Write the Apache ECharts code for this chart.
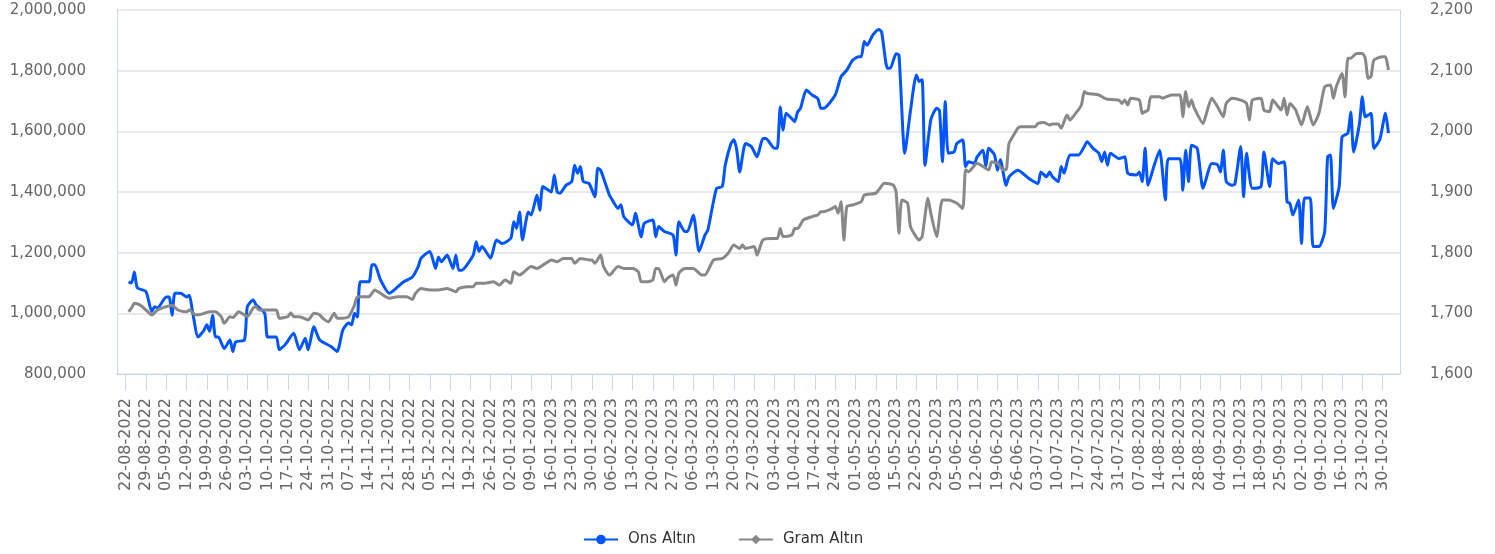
<!DOCTYPE html>
<html><head><meta charset="utf-8">
<script src="https://cdn.jsdelivr.net/npm/echarts@6/dist/echarts.min.js"></script>
<style>html,body{margin:0;padding:0;background:#fff}#c{width:1495px;height:554px}</style>
</head><body><div id="c"></div>
<script>
const seriesNames = ['Ons Altın', 'Gram Altın'];
const axisStart = '2022-08-19';
const axisEnd = '2023-11-05';
const tickLabels = ['22-08-2022','29-08-2022','05-09-2022','12-09-2022','19-09-2022','26-09-2022','03-10-2022','10-10-2022','17-10-2022','24-10-2022','31-10-2022','07-11-2022','14-11-2022','21-11-2022','28-11-2022','05-12-2022','12-12-2022','19-12-2022','26-12-2022','02-01-2023','09-01-2023','16-01-2023','23-01-2023','30-01-2023','06-02-2023','13-02-2023','20-02-2023','27-02-2023','06-03-2023','13-03-2023','20-03-2023','27-03-2023','03-04-2023','10-04-2023','17-04-2023','24-04-2023','01-05-2023','08-05-2023','15-05-2023','22-05-2023','29-05-2023','05-06-2023','12-06-2023','19-06-2023','26-06-2023','03-07-2023','10-07-2023','17-07-2023','24-07-2023','31-07-2023','07-08-2023','14-08-2023','21-08-2023','28-08-2023','04-09-2023','11-09-2023','18-09-2023','25-09-2023','02-10-2023','09-10-2023','16-10-2023','23-10-2023','30-10-2023'];

const onsDates = ['2022-08-23','2022-08-24','2022-08-25','2022-08-26','2022-08-29','2022-08-31','2022-09-01','2022-09-02','2022-09-05','2022-09-06','2022-09-07','2022-09-08','2022-09-10','2022-09-12','2022-09-13','2022-09-14','2022-09-16','2022-09-18','2022-09-19','2022-09-20','2022-09-21','2022-09-22','2022-09-23','2022-09-25','2022-09-27','2022-09-28','2022-09-29','2022-10-02','2022-10-03','2022-10-05','2022-10-06','2022-10-09','2022-10-10','2022-10-13','2022-10-14','2022-10-16','2022-10-19','2022-10-21','2022-10-23','2022-10-24','2022-10-26','2022-10-28','2022-11-01','2022-11-03','2022-11-05','2022-11-07','2022-11-08','2022-11-09','2022-11-10','2022-11-11','2022-11-14','2022-11-15','2022-11-16','2022-11-18','2022-11-21','2022-11-24','2022-11-26','2022-11-29','2022-12-01','2022-12-02','2022-12-05','2022-12-07','2022-12-08','2022-12-09','2022-12-11','2022-12-13','2022-12-14','2022-12-15','2022-12-16','2022-12-20','2022-12-21','2022-12-22','2022-12-23','2022-12-26','2022-12-28','2022-12-30','2023-01-02','2023-01-03','2023-01-04','2023-01-05','2023-01-06','2023-01-08','2023-01-09','2023-01-11','2023-01-12','2023-01-13','2023-01-15','2023-01-16','2023-01-17','2023-01-18','2023-01-19','2023-01-21','2023-01-23','2023-01-24','2023-01-25','2023-01-26','2023-01-27','2023-01-29','2023-01-31','2023-02-01','2023-02-02','2023-02-05','2023-02-06','2023-02-08','2023-02-09','2023-02-10','2023-02-13','2023-02-14','2023-02-16','2023-02-17','2023-02-20','2023-02-21','2023-02-22','2023-02-24','2023-02-27','2023-02-28','2023-03-01','2023-03-03','2023-03-04','2023-03-06','2023-03-08','2023-03-10','2023-03-11','2023-03-14','2023-03-16','2023-03-17','2023-03-19','2023-03-20','2023-03-21','2023-03-22','2023-03-24','2023-03-26','2023-03-28','2023-03-30','2023-03-31','2023-04-03','2023-04-04','2023-04-05','2023-04-06','2023-04-07','2023-04-09','2023-04-10','2023-04-11','2023-04-12','2023-04-14','2023-04-16','2023-04-18','2023-04-19','2023-04-20','2023-04-24','2023-04-26','2023-04-28','2023-04-30','2023-05-02','2023-05-03','2023-05-04','2023-05-05','2023-05-07','2023-05-09','2023-05-10','2023-05-12','2023-05-13','2023-05-15','2023-05-16','2023-05-18','2023-05-20','2023-05-22','2023-05-23','2023-05-24','2023-05-25','2023-05-27','2023-05-29','2023-05-30','2023-05-31','2023-06-01','2023-06-02','2023-06-04','2023-06-05','2023-06-07','2023-06-08','2023-06-09','2023-06-11','2023-06-12','2023-06-14','2023-06-15','2023-06-16','2023-06-18','2023-06-19','2023-06-20','2023-06-22','2023-06-23','2023-06-26','2023-06-30','2023-07-03','2023-07-04','2023-07-06','2023-07-07','2023-07-08','2023-07-10','2023-07-11','2023-07-12','2023-07-14','2023-07-17','2023-07-19','2023-07-20','2023-07-22','2023-07-24','2023-07-25','2023-07-26','2023-07-27','2023-07-28','2023-07-31','2023-08-02','2023-08-03','2023-08-06','2023-08-07','2023-08-08','2023-08-09','2023-08-10','2023-08-12','2023-08-14','2023-08-16','2023-08-17','2023-08-21','2023-08-22','2023-08-23','2023-08-24','2023-08-25','2023-08-27','2023-08-29','2023-09-01','2023-09-03','2023-09-04','2023-09-05','2023-09-06','2023-09-08','2023-09-09','2023-09-11','2023-09-12','2023-09-13','2023-09-15','2023-09-18','2023-09-19','2023-09-21','2023-09-22','2023-09-24','2023-09-26','2023-09-27','2023-09-28','2023-09-29','2023-10-01','2023-10-02','2023-10-03','2023-10-05','2023-10-06','2023-10-08','2023-10-10','2023-10-11','2023-10-12','2023-10-13','2023-10-15','2023-10-16','2023-10-18','2023-10-19','2023-10-20','2023-10-22','2023-10-23','2023-10-24','2023-10-26','2023-10-27','2023-10-29','2023-10-31','2023-11-01'];
const onsValues = [1752,1750,1768,1742,1736,1703,1711,1709,1727,1727,1697,1733,1733,1727,1730,1705,1661,1672,1681,1670,1697,1661,1661,1642,1656,1637,1653,1656,1711,1722,1714,1700,1661,1661,1640,1648,1667,1640,1659,1640,1678,1656,1645,1637,1673,1684,1681,1700,1694,1752,1752,1780,1780,1755,1733,1744,1752,1760,1777,1791,1802,1774,1793,1785,1796,1774,1796,1771,1771,1796,1818,1802,1810,1791,1821,1815,1824,1851,1840,1867,1821,1867,1862,1895,1870,1909,1903,1900,1928,1900,1898,1911,1917,1944,1931,1942,1917,1914,1892,1939,1936,1895,1887,1873,1879,1859,1846,1865,1826,1848,1854,1826,1843,1835,1829,1796,1851,1835,1835,1862,1802,1829,1837,1906,1909,1944,1980,1986,1969,1933,1980,1975,1958,1988,1988,1972,1972,2040,2002,2030,2021,2016,2032,2038,2068,2060,2054,2038,2038,2060,2090,2101,2117,2123,2123,2148,2142,2159,2168,2164,2104,2104,2128,2126,1964,2035,2093,2082,2085,1944,2019,2038,2034,1950,2049,1964,1966,1980,1986,1942,1950,1947,1958,1969,1942,1972,1961,1936,1953,1911,1925,1936,1922,1914,1933,1925,1933,1925,1917,1942,1931,1961,1961,1975,1983,1972,1964,1950,1966,1944,1964,1955,1958,1931,1928,1933,1917,1972,1911,1942,1969,1887,1955,1955,1903,1969,1917,1977,1972,1906,1947,1945,1933,1969,1917,1911,1913,1975,1892,1964,1906,1909,1966,1909,1955,1947,1950,1884,1881,1862,1887,1815,1890,1890,1810,1810,1835,1958,1961,1873,1909,1991,1997,2032,1966,2013,2057,2024,2030,1972,1986,2030,1997];

const gramDates = ['2022-08-23','2022-08-24','2022-08-25','2022-08-27','2022-08-29','2022-08-31','2022-09-02','2022-09-05','2022-09-07','2022-09-09','2022-09-12','2022-09-13','2022-09-15','2022-09-16','2022-09-20','2022-09-22','2022-09-24','2022-09-25','2022-09-27','2022-09-28','2022-09-30','2022-10-02','2022-10-03','2022-10-05','2022-10-06','2022-10-07','2022-10-13','2022-10-14','2022-10-17','2022-10-18','2022-10-19','2022-10-21','2022-10-24','2022-10-26','2022-10-28','2022-10-29','2022-10-31','2022-11-02','2022-11-03','2022-11-05','2022-11-07','2022-11-09','2022-11-10','2022-11-14','2022-11-16','2022-11-18','2022-11-21','2022-11-24','2022-11-27','2022-11-29','2022-11-30','2022-12-02','2022-12-05','2022-12-08','2022-12-11','2022-12-14','2022-12-15','2022-12-18','2022-12-20','2022-12-21','2022-12-24','2022-12-27','2022-12-29','2022-12-31','2023-01-02','2023-01-03','2023-01-05','2023-01-06','2023-01-09','2023-01-11','2023-01-14','2023-01-16','2023-01-18','2023-01-20','2023-01-23','2023-01-24','2023-01-26','2023-01-29','2023-01-30','2023-01-31','2023-02-02','2023-02-03','2023-02-05','2023-02-08','2023-02-10','2023-02-13','2023-02-15','2023-02-16','2023-02-18','2023-02-20','2023-02-21','2023-02-22','2023-02-24','2023-02-25','2023-02-27','2023-02-28','2023-03-01','2023-03-03','2023-03-06','2023-03-09','2023-03-10','2023-03-13','2023-03-16','2023-03-18','2023-03-20','2023-03-22','2023-03-23','2023-03-24','2023-03-27','2023-03-28','2023-03-30','2023-04-02','2023-04-04','2023-04-05','2023-04-06','2023-04-09','2023-04-10','2023-04-11','2023-04-13','2023-04-16','2023-04-18','2023-04-19','2023-04-20','2023-04-23','2023-04-24','2023-04-25','2023-04-26','2023-04-27','2023-04-28','2023-04-30','2023-05-03','2023-05-04','2023-05-08','2023-05-09','2023-05-11','2023-05-14','2023-05-15','2023-05-16','2023-05-17','2023-05-19','2023-05-20','2023-05-23','2023-05-24','2023-05-26','2023-05-27','2023-05-29','2023-05-31','2023-06-02','2023-06-05','2023-06-07','2023-06-08','2023-06-09','2023-06-12','2023-06-14','2023-06-16','2023-06-17','2023-06-19','2023-06-21','2023-06-22','2023-06-23','2023-06-25','2023-06-26','2023-06-27','2023-07-02','2023-07-03','2023-07-05','2023-07-07','2023-07-08','2023-07-10','2023-07-11','2023-07-13','2023-07-14','2023-07-16','2023-07-18','2023-07-19','2023-07-20','2023-07-24','2023-07-26','2023-07-27','2023-07-31','2023-08-01','2023-08-02','2023-08-03','2023-08-04','2023-08-07','2023-08-08','2023-08-09','2023-08-10','2023-08-11','2023-08-14','2023-08-15','2023-08-18','2023-08-21','2023-08-22','2023-08-23','2023-08-24','2023-08-25','2023-08-26','2023-08-29','2023-08-30','2023-09-01','2023-09-03','2023-09-05','2023-09-06','2023-09-08','2023-09-11','2023-09-13','2023-09-14','2023-09-15','2023-09-18','2023-09-19','2023-09-21','2023-09-22','2023-09-24','2023-09-25','2023-09-26','2023-09-27','2023-09-28','2023-09-30','2023-10-02','2023-10-04','2023-10-06','2023-10-08','2023-10-10','2023-10-12','2023-10-13','2023-10-14','2023-10-16','2023-10-17','2023-10-18','2023-10-19','2023-10-21','2023-10-23','2023-10-24','2023-10-25','2023-10-26','2023-10-27','2023-10-30','2023-10-31','2023-11-01'];
const gramValues = [1005000,1017000,1033000,1027000,1011000,995000,1011000,1022000,1027000,1011000,1005000,1011000,995000,995000,1005000,1005000,989000,967000,989000,986000,1005000,995000,989000,1017000,1022000,1011000,1011000,984000,989000,1002000,989000,989000,978000,1000000,995000,984000,972000,1000000,984000,984000,989000,1027000,1055000,1055000,1077000,1066000,1050000,1055000,1055000,1046000,1065000,1082000,1077000,1077000,1082000,1071000,1082000,1088000,1088000,1099000,1099000,1104000,1093000,1110000,1099000,1137000,1126000,1132000,1154000,1148000,1165000,1176000,1170000,1181000,1181000,1165000,1181000,1176000,1176000,1165000,1192000,1154000,1126000,1154000,1148000,1148000,1137000,1104000,1104000,1110000,1148000,1148000,1104000,1115000,1126000,1093000,1132000,1148000,1148000,1126000,1126000,1176000,1181000,1198000,1225000,1214000,1225000,1214000,1220000,1192000,1242000,1247000,1247000,1280000,1253000,1258000,1280000,1280000,1308000,1319000,1324000,1335000,1335000,1346000,1352000,1330000,1368000,1242000,1352000,1357000,1368000,1390000,1396000,1407000,1429000,1423000,1401000,1264000,1374000,1363000,1286000,1242000,1253000,1379000,1330000,1253000,1374000,1374000,1363000,1346000,1473000,1467000,1495000,1484000,1473000,1500000,1495000,1473000,1473000,1560000,1594000,1610000,1615000,1615000,1626000,1629000,1621000,1624000,1624000,1610000,1654000,1637000,1659000,1687000,1731000,1725000,1720000,1709000,1706000,1703000,1692000,1703000,1687000,1709000,1703000,1659000,1665000,1670000,1714000,1714000,1709000,1720000,1720000,1648000,1731000,1681000,1703000,1676000,1626000,1654000,1709000,1681000,1648000,1692000,1709000,1703000,1692000,1637000,1703000,1709000,1670000,1665000,1703000,1681000,1670000,1709000,1654000,1692000,1670000,1621000,1681000,1621000,1659000,1747000,1753000,1709000,1747000,1791000,1714000,1841000,1841000,1857000,1857000,1841000,1775000,1781000,1835000,1846000,1846000,1802000];

// daily category axis from axisStart to axisEnd
function pad(n) { return (n < 10 ? '0' : '') + n; }
function ymd(dt) { return dt.getFullYear() + '-' + pad(dt.getMonth() + 1) + '-' + pad(dt.getDate()); }
const categories = [];
(function () {
  const s = axisStart.split('-').map(Number);
  for (let i = 0; ; i++) {
    const d = ymd(new Date(s[0], s[1] - 1, s[2] + i));
    categories.push(d);
    if (d === axisEnd) break;
  }
})();
function labelOf(c) { const p = c.split('-'); return p[2] + '-' + p[1] + '-' + p[0]; }
const labelSet = new Set(tickLabels);
const isTick = (idx, val) => labelSet.has(labelOf(val));

const FONT = 'DejaVu Sans';
const chart = echarts.init(document.getElementById('c'), null, { renderer: 'canvas' });
chart.setOption({
  animation: false,
  backgroundColor: '#ffffff',
  grid: { left: 117, right: 95, top: 10, bottom: 180, containLabel: false },
  legend: {
    data: [{ name: seriesNames[0] }, { name: seriesNames[1] }],
    top: 527, left: 578, itemWidth: 34, itemHeight: 12, itemGap: 42,
    textStyle: { color: '#333333', fontSize: 15, fontWeight: 'normal', fontFamily: FONT, padding: [0, 0, 0, 5] }
  },
  xAxis: {
    type: 'category', data: categories, boundaryGap: false,
    axisLine: { show: true, lineStyle: { color: '#ccd6eb', width: 1 } },
    axisTick: { show: true, interval: isTick, length: 16, lineStyle: { color: '#ccd6eb' } },
    axisLabel: { interval: isTick, rotate: 90, margin: 24, color: '#666666', fontSize: 16, fontFamily: FONT,
      formatter: v => labelOf(v) },
    splitLine: { show: false }
  },
  yAxis: [{
    type: 'value', position: 'left', min: 800000, max: 2000000, interval: 200000,
    axisLine: { show: true, lineStyle: { color: '#ccd6eb' } },
    axisTick: { show: false },
    axisLabel: { margin: 31, color: '#666666', fontSize: 15, fontFamily: FONT, formatter: v => v.toLocaleString('en-US') },
    splitLine: { show: true, lineStyle: { color: '#e3e3e3', width: 1.5 } }
  }, {
    type: 'value', position: 'right', min: 1600, max: 2200, interval: 100,
    axisLine: { show: true, lineStyle: { color: '#ccd6eb' } },
    axisTick: { show: false },
    axisLabel: { margin: 30, color: '#666666', fontSize: 15, fontFamily: FONT, formatter: v => v.toLocaleString('en-US') },
    splitLine: { show: false }
  }],
  series: [{
    name: seriesNames[0], type: 'line', yAxisIndex: 1,
    data: onsDates.map((d, i) => [d, onsValues[i]]),
    symbol: 'circle', symbolSize: 10, showSymbol: false, smooth: 0.2,
    itemStyle: { color: '#0055ff' }, lineStyle: { color: '#0055ff', width: 3 }
  }, {
    name: seriesNames[1], type: 'line', yAxisIndex: 0,
    data: gramDates.map((d, i) => [d, gramValues[i]]),
    symbol: 'diamond', symbolSize: 12, showSymbol: false, smooth: 0.2,
    itemStyle: { color: '#888888' }, lineStyle: { color: '#888888', width: 3 }
  }]
});
</script>
</body></html>
